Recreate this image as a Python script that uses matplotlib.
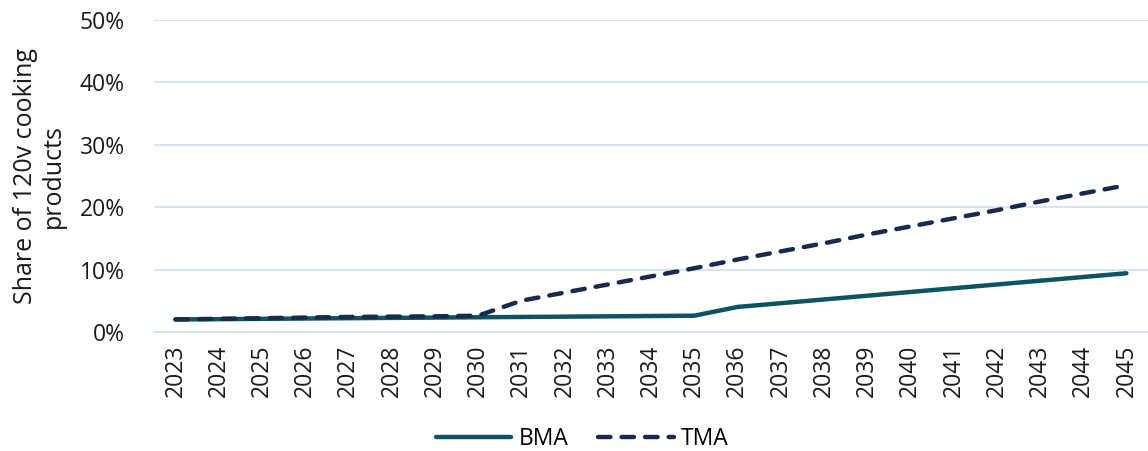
import matplotlib
matplotlib.use("Agg")
import matplotlib.pyplot as plt
from matplotlib.ticker import PercentFormatter

plt.rcParams['font.family'] = ['Open Sans', 'DejaVu Sans']

years = [str(y) for y in range(2023, 2046)]
bma = [2.0, 2.05, 2.1, 2.15, 2.2, 2.25, 2.3, 2.35, 2.4, 2.45, 2.5, 2.55, 2.6,
       4.0, 4.6, 5.2, 5.8, 6.4, 7.0, 7.6, 8.2, 8.8, 9.4]
tma = [2.0, 2.1, 2.2, 2.3, 2.4, 2.45, 2.5, 2.6, 5.0, 6.3, 7.6, 8.9, 10.2,
       11.6, 12.9, 14.2, 15.6, 16.9, 18.2, 19.5, 20.9, 22.2, 23.5]
yticks = [0, 10, 20, 30, 40, 50]

fig = plt.figure(figsize=(11.48, 4.51), dpi=100)
ax = fig.add_axes([0.134, 0.264, 0.866, 0.692])

x = list(range(len(years)))
ax.plot(x, bma, color='#0B5563', lw=3.2, solid_capstyle='round', label='BMA', zorder=3)
ax.plot(x, tma, color='#172B4D', lw=3.2, linestyle=(0, (2.8, 2.5)),
        dash_capstyle='round', label='TMA', zorder=4)

ax.set_xlim(-0.5, len(years) - 0.5)
ax.set_ylim(0, 50)
ax.set_yticks(yticks)
ax.yaxis.set_major_formatter(PercentFormatter(decimals=0))
ax.set_xticks(x)
ax.set_xticklabels(years, rotation=90)
ax.tick_params(axis='both', length=0, labelsize=16.5, colors='#1a1a1a')
ax.tick_params(axis='x', pad=9)
ax.tick_params(axis='y', pad=21)
ax.grid(axis='y', color='#D6E0F2', lw=1.3)
ax.set_axisbelow(True)
for s in ['top', 'right', 'left']:
    ax.spines[s].set_visible(False)
ax.spines['bottom'].set_color('#D6E0F2')
ax.spines['bottom'].set_linewidth(1.3)

ax.set_ylabel('Share of 120v cooking\nproducts', fontsize=18, color='#1a1a1a',
              linespacing=1.12, labelpad=10)

fig.legend(loc='lower center', bbox_to_anchor=(0.507, -0.045), ncol=2, frameon=False,
           fontsize=16.5, handlelength=3.3, handletextpad=0.3, columnspacing=1.3)

fig.savefig('out.png', dpi=100)
